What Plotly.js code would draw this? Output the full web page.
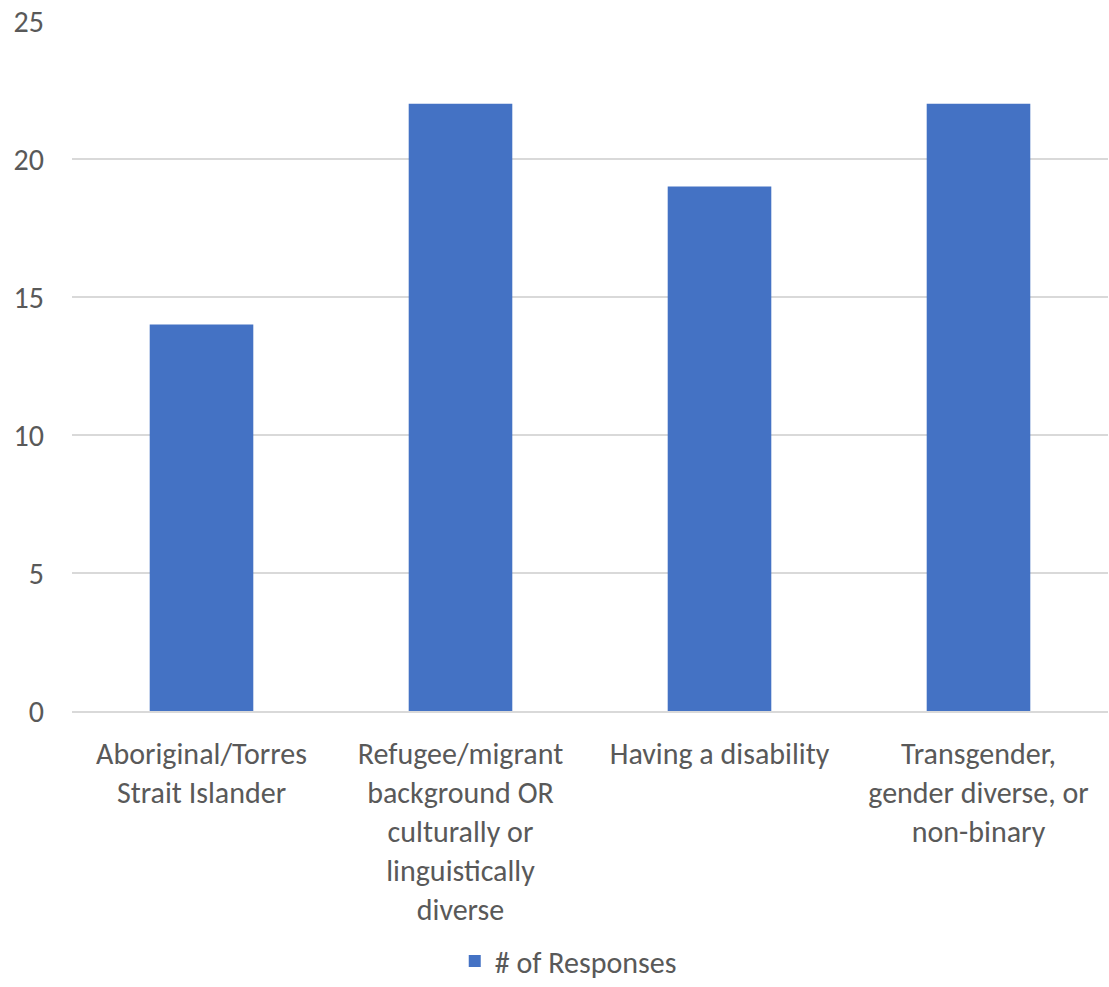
<!DOCTYPE html>
<html>
<head>
<meta charset="utf-8">
<script src="https://cdn.plot.ly/plotly-3.0.1.min.js"></script>
<style>html,body{margin:0;padding:0;background:#fff;}</style>
</head>
<body>
<div id="chart" style="width:1109px;height:987px;"></div>
<script>
const categories = [
  "Aboriginal/Torres<br>Strait Islander",
  "Refugee/migrant<br>background OR<br>culturally or<br>linguistically<br>diverse",
  "Having a disability",
  "Transgender,<br>gender diverse, or<br>non-binary"
];
const responses = [14, 22, 19, 22];
const seriesName = "# of Responses";
const yTicks = [0, 5, 10, 15, 20, 25];

const font = {family: "Carlito, Lato, 'Open Sans', 'Liberation Sans', sans-serif", size: 30, color: "#595959"};

Plotly.newPlot("chart", [{
  type: "bar",
  x: categories,
  y: responses,
  name: seriesName,
  marker: {color: "#4472C4"},
  hoverinfo: "none"
}], {
  width: 1109, height: 987,
  margin: {l: 72, r: 1, t: 21, b: 275},
  bargap: 0.6,
  font: font,
  showlegend: true,
  legend: {orientation: "h", x: 0.479, xanchor: "center", y: -0.398, yanchor: "bottom", font: font, itemwidth: 30},
  xaxis: {tickfont: font, showgrid: false, showline: true, linecolor: "#d9d9d9", linewidth: 1.5, ticks: "", automargin: false, ticklabelstandoff: 15},
  yaxis: {range: [0, 25], tickvals: yTicks, tickfont: font, gridcolor: "#d9d9d9", gridwidth: 1.5, zeroline: false, showline: false, ticks: "", ticklabelstandoff: 27, automargin: false},
  paper_bgcolor: "#fff", plot_bgcolor: "#fff"
}, {displayModeBar: false, staticPlot: true});
</script>
</body>
</html>
